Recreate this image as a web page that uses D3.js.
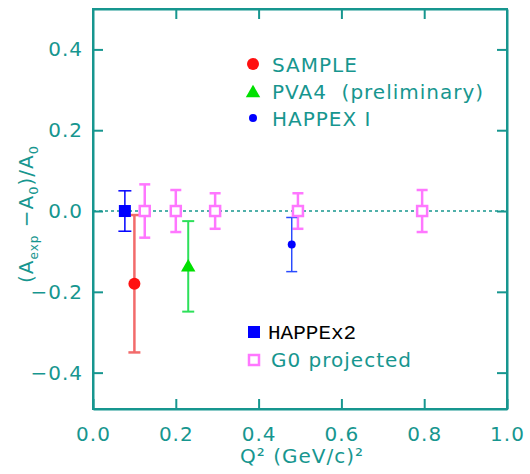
<!DOCTYPE html>
<html>
<head>
    <meta charset="utf-8">
    <style>
        body { margin: 0; background: #fff; }
        text { font-family: "DejaVu Sans", sans-serif; }
    </style>
</head>
<body>
    <script src="https://cdn.jsdelivr.net/npm/d3@7"></script>
    <script>
        // values
        var xTicks = [0.0, 0.2, 0.4, 0.6, 0.8, 1.0];
        var yTicks = [-0.4, -0.2, 0.0, 0.2, 0.4];

        var sampleQ2 = [0.10], sampleVal = [-0.18], sampleErr = [0.17];
        var pva4Q2 = [0.23], pva4Val = [-0.137], pva4Err = [0.112];
        var happex1Q2 = [0.48], happex1Val = [-0.083], happex1Err = [0.067];
        var happex2Q2 = [0.077], happex2Val = [0.0], happex2Err = [0.05];
        var g0Q2 = [0.125, 0.20, 0.295, 0.495, 0.795];
        var g0Val = [0.0, 0.0, 0.0, 0.0, 0.0];
        var g0Err = [0.066, 0.052, 0.044, 0.044, 0.052];

        var legendTop = ["SAMPLE", "PVA4  (preliminary)", "HAPPEX I"];
        var legendBottom = ["HAPPEx2", "G0 projected"];

        var teal = "#17968f";
        var width = 530, height = 474;
        var margin = { left: 93, right: 23, top: 9, bottom: 65 };

        var xScale = d3.scaleLinear().domain([0, 1])
            .range([margin.left, width - margin.right]);
        var yScale = d3.scaleLinear().domain([-0.49, 0.5])
            .range([height - margin.bottom, margin.top]);

        var svg = d3.select("body").append("svg")
            .attr("width", width)
            .attr("height", height);

        function zip(xs, vs, es) {
            return xs.map(function (x, i) { return { x: x, v: vs[i], e: es[i] }; });
        }

        // zero line
        svg.append("line")
            .attr("x1", xScale(0)).attr("x2", xScale(1))
            .attr("y1", yScale(0)).attr("y2", yScale(0))
            .attr("stroke", teal).attr("stroke-width", 1.5)
            .attr("stroke-dasharray", "3,3");

        // axes, ticks pointing inward
        var xAxis = d3.axisBottom(xScale).tickValues(xTicks)
            .tickSize(-10).tickSizeOuter(0).tickPadding(18)
            .tickFormat(d3.format(".1f"));
        var xAxisTop = d3.axisTop(xScale).tickValues(xTicks.slice(1, -1))
            .tickSize(-10).tickSizeOuter(0).tickFormat("");
        var yAxis = d3.axisLeft(yScale).tickValues(yTicks)
            .tickSize(-10).tickSizeOuter(0).tickPadding(10)
            .tickFormat(function (d) { return d3.format(".1f")(d).replace("-", "\u2212"); });
        var yAxisRight = d3.axisRight(yScale).tickValues(yTicks)
            .tickSize(-10).tickSizeOuter(0).tickFormat("");

        var gx = svg.append("g")
            .attr("transform", "translate(0," + yScale.range()[0] + ")").call(xAxis);
        var gxt = svg.append("g")
            .attr("transform", "translate(0," + yScale.range()[1] + ")").call(xAxisTop);
        var gy = svg.append("g")
            .attr("transform", "translate(" + xScale.range()[0] + ",0)").call(yAxis);
        var gyr = svg.append("g")
            .attr("transform", "translate(" + xScale.range()[1] + ",0)").call(yAxisRight);

        [gx, gxt, gy, gyr].forEach(function (g) {
            g.select(".domain").attr("stroke", teal).attr("stroke-width", 2);
            g.selectAll(".tick line").attr("stroke", teal).attr("stroke-width", 2);
            g.selectAll(".tick text")
                .attr("fill", teal)
                .style("font-family", "'DejaVu Sans', sans-serif")
                .style("font-size", "20px")
                .style("letter-spacing", "1px");
        });

        // error bars
        function errorBars(data, color, w, cap) {
            var g = svg.append("g").attr("stroke", color).attr("stroke-width", w);
            data.forEach(function (d) {
                var cx = xScale(d.x);
                g.append("line").attr("x1", cx).attr("x2", cx)
                    .attr("y1", yScale(d.v + d.e)).attr("y2", yScale(d.v - d.e));
                [d.v + d.e, d.v - d.e].forEach(function (v) {
                    g.append("line").attr("x1", cx - cap / 2).attr("x2", cx + cap / 2)
                        .attr("y1", yScale(v)).attr("y2", yScale(v));
                });
            });
        }

        var g0 = zip(g0Q2, g0Val, g0Err);
        var sample = zip(sampleQ2, sampleVal, sampleErr);
        var pva4 = zip(pva4Q2, pva4Val, pva4Err);
        var happex1 = zip(happex1Q2, happex1Val, happex1Err);
        var happex2 = zip(happex2Q2, happex2Val, happex2Err);

        errorBars(g0, "#ff77ff", 2.5, 11);
        errorBars(sample, "#f26b6b", 2.5, 12);
        errorBars(pva4, "#2de05a", 2, 12);
        errorBars(happex1, "#2a4bff", 1.5, 11);
        errorBars(happex2, "#0000ff", 1.5, 13);

        // markers
        svg.append("g").selectAll("rect").data(g0).enter().append("rect")
            .attr("x", function (d) { return xScale(d.x) - 5; })
            .attr("y", function (d) { return yScale(d.v) - 5; })
            .attr("width", 10).attr("height", 10)
            .attr("fill", "#fff").attr("stroke", "#ff77ff").attr("stroke-width", 2.5);

        svg.append("g").selectAll("rect").data(happex2).enter().append("rect")
            .attr("x", function (d) { return xScale(d.x) - 6; })
            .attr("y", function (d) { return yScale(d.v) - 6; })
            .attr("width", 12).attr("height", 12)
            .attr("fill", "#0000ff");

        svg.append("g").selectAll("circle").data(sample).enter().append("circle")
            .attr("cx", function (d) { return xScale(d.x); })
            .attr("cy", function (d) { return yScale(d.v); })
            .attr("r", 6).attr("fill", "#ff1010");

        var tri = d3.symbol().type(d3.symbolTriangle).size(90);
        svg.append("g").selectAll("path").data(pva4).enter().append("path")
            .attr("d", tri)
            .attr("transform", function (d) { return "translate(" + xScale(d.x) + "," + (yScale(d.v) + 1) + ")"; })
            .attr("fill", "#00e000");

        svg.append("g").selectAll("circle").data(happex1).enter().append("circle")
            .attr("cx", function (d) { return xScale(d.x); })
            .attr("cy", function (d) { return yScale(d.v); })
            .attr("r", 4).attr("fill", "#0000ff");

        // legend (top group)
        var lg = svg.append("g");
        lg.append("circle").attr("cx", 253).attr("cy", 64).attr("r", 6).attr("fill", "#ff1010");
        lg.append("path").attr("d", tri).attr("transform", "translate(253,93)").attr("fill", "#00e000");
        lg.append("circle").attr("cx", 253).attr("cy", 118).attr("r", 4).attr("fill", "#0000ff");
        lg.selectAll("text").data(legendTop).enter().append("text")
            .attr("x", 272)
            .attr("y", function (d, i) { return 72 + i * 27; })
            .attr("fill", teal)
            .style("font-size", "20px")
            .style("letter-spacing", "1px")
            .style("white-space", "pre")
            .text(function (d) { return d; });

        // legend (bottom group)
        lg.append("rect").attr("x", 248).attr("y", 326).attr("width", 12).attr("height", 12).attr("fill", "#0000ff");
        lg.append("rect").attr("x", 249).attr("y", 355).attr("width", 10).attr("height", 10)
            .attr("fill", "#fff").attr("stroke", "#ff77ff").attr("stroke-width", 2.5);
        lg.append("text").attr("x", 268).attr("y", 339)
            .attr("fill", "#000")
            .style("font-family", "'Liberation Mono', monospace")
            .style("font-size", "21px")
            .text(legendBottom[0]);
        lg.append("text").attr("x", 271).attr("y", 367)
            .attr("fill", teal)
            .style("font-size", "20px")
            .style("letter-spacing", "1px")
            .text(legendBottom[1]);

        // frame
        svg.append("rect")
            .attr("x", xScale.range()[0]).attr("y", yScale.range()[1])
            .attr("width", xScale.range()[1] - xScale.range()[0])
            .attr("height", yScale.range()[0] - yScale.range()[1])
            .attr("fill", "none").attr("stroke", teal).attr("stroke-width", 2);

        // axis titles
        svg.append("text")
            .attr("x", 302).attr("y", 463)
            .attr("text-anchor", "middle")
            .attr("fill", teal)
            .style("font-size", "20px")
            .style("letter-spacing", "1px")
            .text("Q\u00b2 (GeV/c)\u00b2");

        var yt = svg.append("text")
            .attr("transform", "translate(33,214) rotate(-90)")
            .attr("text-anchor", "middle")
            .attr("fill", teal)
            .style("font-size", "20px")
            .style("letter-spacing", "1px");
        yt.append("tspan").text("(A");
        yt.append("tspan").attr("dy", 5).style("font-size", "12px").text("exp");
        yt.append("tspan").attr("dy", -5).text(" \u2212A");
        yt.append("tspan").attr("dy", 5).style("font-size", "13px").text("0");
        yt.append("tspan").attr("dy", -5).text(")/A");
        yt.append("tspan").attr("dy", 5).style("font-size", "13px").text("0");
    </script>
</body>
</html>
